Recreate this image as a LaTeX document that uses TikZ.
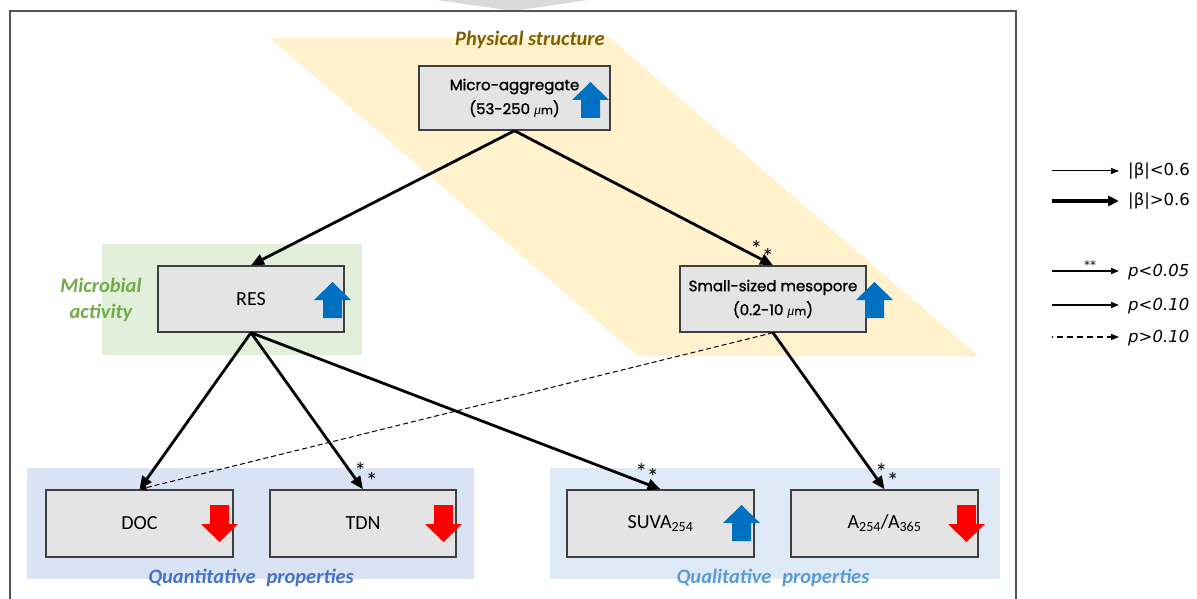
\documentclass[tikz,border=0pt]{standalone}
\usepackage{fontspec}
\setmainfont{Carlito}
\newfontfamily\gothic[FakeBold=1.4]{Poppins}
\newfontfamily\dejavu{DejaVu Sans}
\newfontfamily\muf{Liberation Serif}
\usetikzlibrary{arrows.meta}
\definecolor{boxfill}{HTML}{E4E4E4}
\definecolor{boxline}{HTML}{3F3F3F}
\definecolor{ylw}{HTML}{FFF2CC}
\definecolor{grn}{HTML}{E2EFDA}
\definecolor{grntext}{HTML}{70AD47}
\definecolor{qnt}{HTML}{DAE3F3}
\definecolor{qnttext}{HTML}{4472C4}
\definecolor{qlt}{HTML}{DEEBF7}
\definecolor{qlttext}{HTML}{5B9BD5}
\definecolor{brn}{HTML}{7F6000}
\definecolor{upblue}{HTML}{0070C0}
\definecolor{dnred}{HTML}{FF0000}
\definecolor{topgray}{HTML}{D9D9D9}
\definecolor{framec}{HTML}{555555}
\newcommand\bluearr[2]{\fill[upblue] (#1,#2) ++(18.5,0) -- ++(18.5,18) -- ++(-9,0) -- ++(0,18) -- ++(-19,0) -- ++(0,-18) -- ++(-9,0) -- cycle;}
\newcommand\redarr[2]{\fill[dnred] (#1,#2) ++(9,0) -- ++(19,0) -- ++(0,19) -- ++(9,0) -- ++(-18.5,18) -- ++(-18.5,-18) -- ++(9,0) -- cycle;}
\newcommand\stagstars[1]{\raisebox{#1}{*}\kern-0.5pt\raisebox{-#1}{*}}
\newcommand\mum{{\muf\itshape\fontsize{14}{14}\selectfont μ}{\fontsize{11.5}{11.5}\selectfont m}}
\begin{document}
\begin{tikzpicture}[x=1pt,y=-1pt,
  box/.style={draw=boxline, fill=boxfill, line width=1.4pt, rectangle, inner sep=0pt, align=center},
  gbox/.style={box, font=\gothic\fontsize{15}{24}\selectfont},
  cbox/.style={box, font=\fontsize{20}{22}\selectfont},
  conn/.style={line width=2.8pt, -{Triangle[length=13pt,width=11pt]}},
  weak/.style={line width=1pt, dash pattern=on 5pt off 3pt, -{Triangle[length=7pt,width=6pt]}},
  stars/.style={font=\fontsize{24}{24}\selectfont, inner sep=0pt},
  grouplabel/.style={font=\bfseries\itshape\fontsize{20.5}{26}\selectfont, inner sep=0pt, align=center},
  legtxt/.style={font=\dejavu\fontsize{16.5}{18}\selectfont, anchor=west, inner sep=0pt},
  legp/.style={font=\dejavu\itshape\fontsize{16.5}{18}\selectfont, anchor=west, inner sep=0pt}]
\useasboundingbox (0,0) rectangle (1197,599);
\fill[white] (0,0) rectangle (1197,599);
% top gray shape
\fill[topgray] (437,0) -- (513,11) -- (588,0) -- cycle;
% frame
\draw[framec, line width=1.8pt] (10,610) -- (10,11) -- (1016,11) -- (1016,610);
% backgrounds
\fill[ylw] (270,38) -- (610,38) -- (978,356) -- (638,356) -- cycle;
\fill[grn] (102,244) rectangle (362,355);
\fill[qnt] (27,468) rectangle (474,579);
\fill[qlt] (550,468) rectangle (1000,579);
% group labels
\node[grouplabel, text=brn] (lphys) at (530,40) {Physical structure};
\node[grouplabel, text=grntext] (lmic) at (101,300) {Microbial\\activity};
\node[grouplabel, text=qnttext] (lqnt) at (251,578) {Quantitative\hspace{0.3em} properties};
\node[grouplabel, text=qlttext] (lqlt) at (773,578) {Qualitative\hspace{0.3em} properties};
% boxes
\node[gbox, minimum width=191pt, minimum height=64pt] (micro) at (514.5,98) {\raisebox{-3pt}{\parbox{150pt}{\centering Micro-aggregate\\(53-250 \mum)}}};
\node[cbox, minimum width=186pt, minimum height=66pt] (res) at (251,299) {RES};
\node[gbox, minimum width=186pt, minimum height=66pt] (meso) at (773,299) {Small-sized mesopore\\(0.2-10 \mum)};
\node[cbox, minimum width=187pt, minimum height=67pt] (doc) at (139.5,523.5) {DOC};
\node[cbox, minimum width=186pt, minimum height=67pt] (tdn) at (363,523.5) {TDN};
\node[cbox, minimum width=187pt, minimum height=67pt] (suva) at (660.5,523.5) {SUVA\textsubscript{254}};
\node[cbox, minimum width=187pt, minimum height=67pt] (abs) at (884.5,523.5) {A\textsubscript{254}/A\textsubscript{365}};
% up/down arrows
\bluearr{572}{82}
\bluearr{314}{282}
\bluearr{856}{282}
\bluearr{723}{505}
\redarr{201}{505}
\redarr{425}{505}
\redarr{948}{505}
% connectors
\draw[weak] (meso.south) -- (doc.north);
\draw[conn] (micro.south) -- (res.north);
\draw[conn] (micro.south) -- (meso.north);
\draw[conn] (res.south) -- (doc.north);
\draw[conn] (res.south) -- (tdn.north);
\draw[conn] (res.south) -- (suva.north);
\draw[conn] (meso.south) -- (abs.north);
% significance stars
\node[stars] (s1) at (762,253) {\stagstars{4pt}};
\node[stars] (s2) at (366,476) {\stagstars{5pt}};
\node[stars] (s3) at (647,474) {\stagstars{2.5pt}};
\node[stars] (s4) at (887,476) {\stagstars{4.5pt}};
% legend
\coordinate (a1) at (1052,171); \coordinate (b1) at (1119,171);
\coordinate (a2) at (1052,201); \coordinate (b2) at (1119,201);
\coordinate (a3) at (1052,271); \coordinate (b3) at (1119,271);
\coordinate (a4) at (1052,305); \coordinate (b4) at (1119,305);
\coordinate (a5) at (1052,337); \coordinate (b5) at (1119,337);
\draw[line width=1pt, -{Triangle[length=8pt,width=6pt]}] (a1) -- (b1);
\draw[line width=3.5pt, -{Triangle[length=11pt,width=10pt]}] (a2) -- (b2);
\draw[line width=1.5pt, -{Triangle[length=8pt,width=6pt]}] (a3) -- (b3);
\draw[line width=1.5pt, -{Triangle[length=8pt,width=6pt]}] (a4) -- (b4);
\draw[line width=1.2pt, dash pattern=on 6pt off 4pt, dash phase=5pt, -{Triangle[length=8pt,width=6pt]}] (a5) -- (b5);
\node[font=\dejavu\fontsize{12}{12}\selectfont, inner sep=0pt] (lst) at (1090,265) {**};
\node[legtxt] (t1) at (1128,171) {|β|<0.6};
\node[legtxt] (t2) at (1128,201) {|β|>0.6};
\node[legp] (t3) at (1128,272) {p<0.05};
\node[legp] (t4) at (1128,306) {p<0.10};
\node[legp] (t5) at (1128,338) {p>0.10};
\end{tikzpicture}
\end{document}
